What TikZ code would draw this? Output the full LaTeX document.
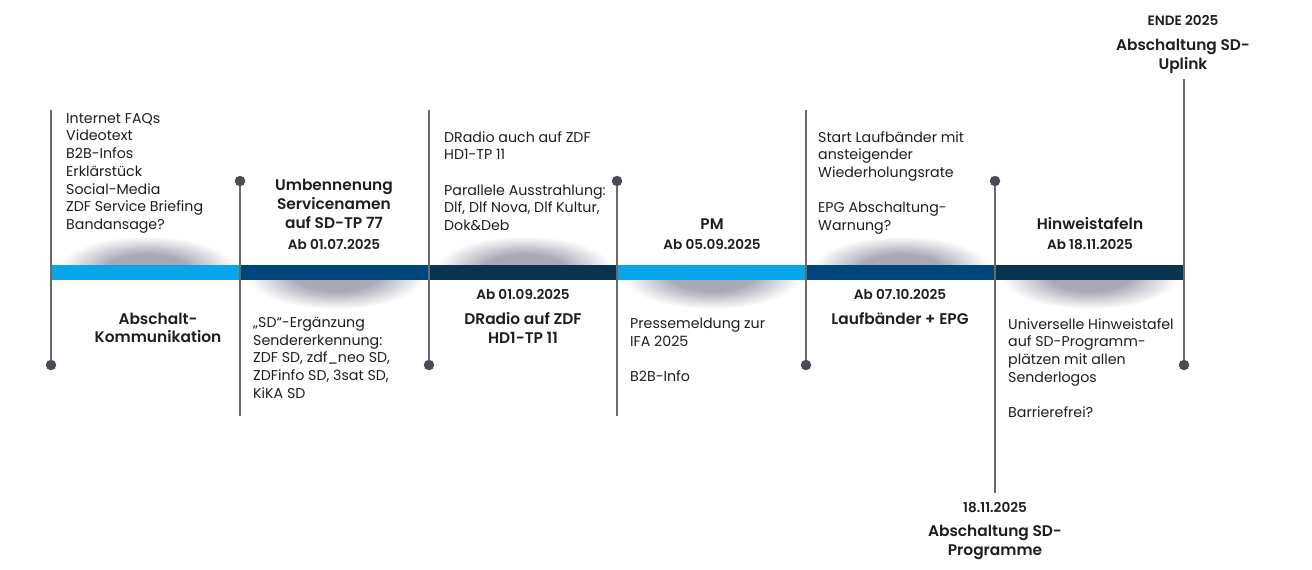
\documentclass[tikz,border=0pt]{standalone}
\usepackage{fontspec}
\setmainfont{Poppins}[BoldFont={Poppins SemiBold}]
\definecolor{lblue}{HTML}{0AA4E8}
\definecolor{mblue}{HTML}{00467A}
\definecolor{nblue}{HTML}{0A3350}
\definecolor{vline}{HTML}{6A6A6A}
\definecolor{dotc}{HTML}{4B4B55}
\definecolor{txt}{HTML}{1E1E1E}
\definecolor{shad}{HTML}{A9A9B6}
\pgfdeclareradialshading{softshadow}{\pgfpoint{0bp}{0bp}}{color(0bp)=(shad); color(11bp)=(shad); color(25bp)=(white); color(50bp)=(white)}
\begin{document}
\begin{tikzpicture}[x=1pt,y=-1pt,
  dot/.style={circle,fill=dotc,minimum size=10.5pt,inner sep=0pt},
  vl/.style={draw=vline,line width=1.1pt},
  body/.style={inner sep=0pt,anchor=north west,align=left,text=txt,font=\fontsize{14.2}{17.7}\selectfont},
  ttl/.style={inner sep=0pt,anchor=north,align=center,text=txt,font=\fontsize{15.4}{19}\selectfont\bfseries},
  dat/.style={inner sep=0pt,anchor=north,align=center,text=txt,font=\fontsize{13.6}{17}\selectfont\bfseries},
  soft/.style={shading=softshadow},
]
\useasboundingbox (0,0) rectangle (1312,570);
% shadows above the bar
\begin{scope}
\clip (0,200) rectangle (1312,265);
\shade[soft] (147,268) ellipse (88 and 32);
\shade[soft] (524,268) ellipse (88 and 32);
\shade[soft] (901,268) ellipse (88 and 32);
\end{scope}
% shadows below the bar
\begin{scope}
\clip (0,280) rectangle (1312,340);
\shade[soft] (336,277) ellipse (88 and 32);
\shade[soft] (712,277) ellipse (88 and 32);
\shade[soft] (1090,277) ellipse (88 and 32);
\end{scope}
% bar
\fill[lblue] (51,265) rectangle (240,280);
\fill[mblue] (240,265) rectangle (429,280);
\fill[nblue] (429,265) rectangle (617,280);
\fill[lblue] (617,265) rectangle (806,280);
\fill[mblue] (806,265) rectangle (995,280);
\fill[nblue] (995,265) rectangle (1184,280);
% markers
\node[dot] (d1) at (51,365) {};
\node[dot] (d2) at (240,181) {};
\node[dot] (d3) at (429,365) {};
\node[dot] (d4) at (617,181) {};
\node[dot] (d5) at (806,365) {};
\node[dot] (d6) at (995,181) {};
\node[dot] (d7) at (1184,365) {};
\coordinate (e1) at (51,110);
\coordinate (e2) at (240,416);
\coordinate (e3) at (429,110);
\coordinate (e4) at (617,416);
\coordinate (e5) at (806,110);
\coordinate (e6) at (995,493);
\coordinate (e7) at (1184,79);
\draw[vl] (e1) -- (d1);
\draw[vl] (d2) -- (e2);
\draw[vl] (e3) -- (d3);
\draw[vl] (d4) -- (e4);
\draw[vl] (e5) -- (d5);
\draw[vl] (d6) -- (e6);
\draw[vl] (e7) -- (d7);
% segment 1
\node[body] (s1a) at (66,113) {Internet FAQs\\Videotext\\B2B-Infos\\Erklärstück\\Social-Media\\ZDF Service Briefing\\Bandansage?};
\node[ttl,font=\fontsize{15.4}{18}\selectfont\bfseries] (s1b) at (158,312.5) {Abschalt-\\Kommunikation};
% segment 2
\node[ttl] (s2t) at (334,178.5) {Umbennenung\\Servicenamen\\auf SD-TP 77};
\node[dat] (s2d) at (334,239.3) {Ab 01.07.2025};
\node[body] (s2b) at (253,317) {„SD“-Ergänzung\\Sendererkennung:\\ZDF SD, zdf\_neo SD,\\ZDFinfo SD, 3sat SD,\\KiKA SD};
% segment 3
\node[body] (s3a) at (444,131) {DRadio auch auf ZDF\\HD1-TP 11\\[17.7pt]Parallele Ausstrahlung:\\Dlf, Dlf Nova, Dlf Kultur,\\Dok\&Deb};
\node[dat] (s3d) at (523,289.3) {Ab 01.09.2025};
\node[ttl] (s3t) at (523,312.5) {DRadio auf ZDF\\HD1-TP 11};
% segment 4
\node[ttl] (s4t) at (712,218.5) {PM};
\node[dat] (s4d) at (712,239.3) {Ab 05.09.2025};
\node[body] (s4b) at (630,318) {Pressemeldung zur\\IFA 2025\\[17.7pt]B2B-Info};
% segment 5
\node[body] (s5a) at (818,131) {Start Laufbänder mit\\ansteigender\\Wiederholungsrate\\[17.7pt]EPG Abschaltung-\\Warnung?};
\node[dat] (s5d) at (900,289.3) {Ab 07.10.2025};
\node[ttl] (s5t) at (900,312.5) {Laufbänder + EPG};
% segment 6
\node[ttl] (s6t) at (1090,217.5) {Hinweistafeln};
\node[dat] (s6d) at (1090,239.3) {Ab 18.11.2025};
\node[body] (s6b) at (1008,318) {Universelle Hinweistafel\\auf SD-Programm-\\plätzen mit allen\\Senderlogos\\[17.7pt]Barrierefrei?};
% ends
\node[dat] (u1) at (1183,15.3) {ENDE 2025};
\node[ttl] (u2) at (1183,38.5) {Abschaltung SD-\\Uplink};
\node[dat] (p1) at (995,502.3) {18.11.2025};
\node[ttl] (p2) at (995,524.5) {Abschaltung SD-\\Programme};
\end{tikzpicture}
\end{document}
